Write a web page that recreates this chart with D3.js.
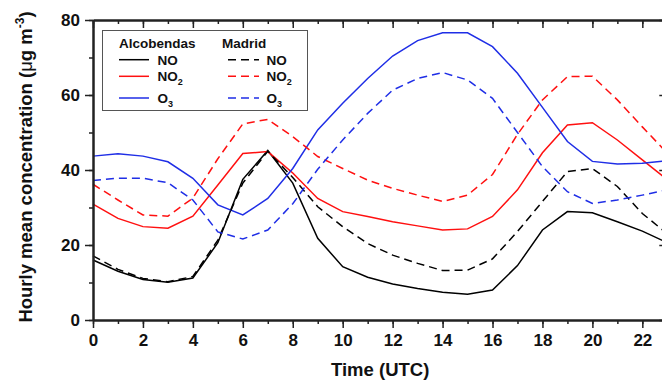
<!DOCTYPE html>
<html>
<head>
<meta charset="utf-8">
<script src="https://cdnjs.cloudflare.com/ajax/libs/d3/7.8.5/d3.min.js"></script>
<style>
  body { margin: 0; background: #fff; }
  text { font-family: "Liberation Sans", Arial, sans-serif; font-weight: bold; fill: #111; }
</style>
</head>
<body>
<div id="chart"></div>
<script>
// hours 0..23
const hours = d3.range(0, 24);

// Alcobendas (solid)
const alcNO  = [16, 13, 10.8, 10.1, 11.2, 20.6, 37.5, 45.2, 36.5, 21.8, 14.2, 11.4, 9.6, 8.4, 7.4, 6.9, 8.0, 14.5, 24, 28.9, 28.6, 26.2, 23.7, 20.6];
const alcNO2 = [30.9, 27.1, 24.9, 24.5, 27.7, 36, 44.4, 44.9, 39.2, 32.4, 28.9, 27.6, 26.2, 25.1, 24, 24.3, 27.6, 34.7, 44.6, 52, 52.6, 48, 42.7, 37.4];
const alcO3  = [43.7, 44.3, 43.7, 42.2, 37.8, 30.7, 28, 32.4, 40.4, 50.7, 57.8, 64.4, 70.4, 74.5, 76.6, 76.6, 72.9, 65.8, 56.7, 47.6, 42.3, 41.6, 41.8, 42.5];

// Madrid (dashed)
const madNO  = [17.1, 13.5, 11.1, 10.2, 11.6, 21.3, 36.5, 45, 38, 30.2, 24.9, 20.4, 17.3, 15.1, 13.2, 13.3, 16.3, 23.6, 31.6, 39.6, 40.4, 35.6, 28.4, 23];
const madNO2 = [36.2, 32, 28, 27.7, 32.5, 43, 52.3, 53.5, 48.9, 43.6, 40.4, 37.3, 35.1, 33.3, 31.6, 33.3, 38.8, 49.5, 58.7, 64.9, 65, 58.7, 51.5, 44.5];
const madO3  = [37.2, 37.8, 37.8, 36.6, 32, 23.5, 21.6, 24, 31, 40.2, 48, 55.1, 61.3, 64.4, 66, 64, 59.1, 50, 40.9, 34.2, 31.1, 32, 33.3, 34.7];

const xTicks = d3.range(0, 23, 2);
const yTicks = [0, 20, 40, 60, 80];

const RED = "#ff1010", BLUE = "#1f2ee6", BLACK = "#000";

const series = [
  { vals: alcNO,  color: BLACK, dash: null },
  { vals: alcNO2, color: RED,   dash: null },
  { vals: alcO3,  color: BLUE,  dash: null },
  { vals: madNO,  color: BLACK, dash: "8,5" },
  { vals: madNO2, color: RED,   dash: "8,5" },
  { vals: madO3,  color: BLUE,  dash: "8,5" }
];

const W = 662, H = 386;
const svg = d3.select("#chart").append("svg")
  .attr("width", W).attr("height", H);

const x = d3.scaleLinear().domain([0, 23]).range([93, 667.3]);
const y = d3.scaleLinear().domain([0, 80]).range([320, 20]);

// data lines
const line = d3.line().x((d, i) => x(hours[i])).y(d => y(d));
const lineCont = svg.append("g").attr("id", "lines");
series.forEach(s => {
  lineCont.append("path")
    .attr("d", line(s.vals))
    .attr("fill", "none")
    .attr("stroke", s.color)
    .attr("stroke-width", 1.5)
    .attr("stroke-dasharray", s.dash);
});

// axes
const axes = svg.append("g").attr("id", "axes");
const styleAxis = g => {
  g.select(".domain").attr("stroke", "#222").attr("stroke-width", 2);
  g.selectAll(".tick line").attr("stroke", "#222").attr("stroke-width", 1.5);
  g.selectAll(".tick text").attr("font-size", 17).attr("fill", "#111")
    .attr("font-family", "Liberation Sans, Arial, sans-serif").attr("font-weight", "bold");
};

// bottom
axes.append("g").attr("transform", `translate(0,${y(0)})`)
  .call(d3.axisBottom(x).tickValues(d3.range(0, 24)).tickSize(4).tickFormat("").tickSizeOuter(0))
  .call(styleAxis);
axes.append("g").attr("transform", `translate(0,${y(0)})`)
  .call(d3.axisBottom(x).tickValues(xTicks).tickSize(8).tickPadding(6).tickSizeOuter(0))
  .call(styleAxis);
// top (inward)
axes.append("g").attr("transform", `translate(0,${y(80)})`)
  .call(d3.axisBottom(x).tickValues(d3.range(0, 24)).tickSize(4).tickFormat("").tickSizeOuter(0))
  .call(styleAxis);
axes.append("g").attr("transform", `translate(0,${y(80)})`)
  .call(d3.axisBottom(x).tickValues(xTicks).tickSize(8).tickFormat("").tickSizeOuter(0))
  .call(styleAxis);
// left
axes.append("g").attr("transform", `translate(${x(0)},0)`)
  .call(d3.axisLeft(y).tickValues(d3.range(0, 81, 10)).tickSize(4).tickFormat("").tickSizeOuter(0))
  .call(styleAxis);
axes.append("g").attr("transform", `translate(${x(0)},0)`)
  .call(d3.axisLeft(y).tickValues(yTicks).tickSize(8).tickPadding(5).tickSizeOuter(0))
  .call(styleAxis);
// right (inward)
axes.append("g").attr("transform", `translate(${x(23)},0)`)
  .call(d3.axisLeft(y).tickValues(d3.range(0, 81, 10)).tickSize(4).tickFormat("").tickSizeOuter(0))
  .call(styleAxis);
axes.append("g").attr("transform", `translate(${x(23)},0)`)
  .call(d3.axisLeft(y).tickValues(yTicks).tickSize(8).tickFormat("").tickSizeOuter(0))
  .call(styleAxis);

// axis titles
svg.append("text")
  .attr("x", (x(0) + x(23)) / 2).attr("y", 376)
  .attr("text-anchor", "middle").attr("font-size", 18.5)
  .text("Time (UTC)");

const yt = svg.append("text")
  .attr("transform", `translate(32,167) rotate(-90)`)
  .attr("text-anchor", "middle").attr("font-size", 18.5);
yt.append("tspan").text("Hourly mean concentration (");
yt.append("tspan").attr("font-weight", "normal").text("μ");
yt.append("tspan").text("g m");
yt.append("tspan").attr("font-size", 12).attr("dy", -8).text("-3");
yt.append("tspan").attr("dy", 8).text(")");

// legend
const leg = svg.append("g").attr("id", "legend");
leg.append("rect")
  .attr("x", 102.5).attr("y", 30.5).attr("width", 205).attr("height", 80)
  .attr("fill", "#fff").attr("stroke", "#555").attr("stroke-width", 1);
leg.append("text").attr("x", 119).attr("y", 47.5).attr("font-size", 13.5).text("Alcobendas");
leg.append("text").attr("x", 222).attr("y", 47.5).attr("font-size", 13.5).text("Madrid");

const legRows = [
  { name: "NO", sub: "", yy: 59.7 },
  { name: "NO", sub: "2", yy: 76.3 },
  { name: "O", sub: "3", yy: 98 }
];
legRows.forEach((r, i) => {
  [[119, 149, 157.5, null], [228, 259, 266.5, "8,5"]].forEach(([x1, x2, tx, dash]) => {
    leg.append("line")
      .attr("x1", x1).attr("x2", x2).attr("y1", r.yy).attr("y2", r.yy)
      .attr("stroke", series[i].color).attr("stroke-width", 1.5)
      .attr("stroke-dasharray", dash);
    const t = leg.append("text").attr("x", tx).attr("y", r.yy + 5).attr("font-size", 13.5);
    t.append("tspan").text(r.name);
    if (r.sub) t.append("tspan").attr("font-size", 9).attr("dy", 4).text(r.sub);
  });
});
</script>
</body>
</html>
